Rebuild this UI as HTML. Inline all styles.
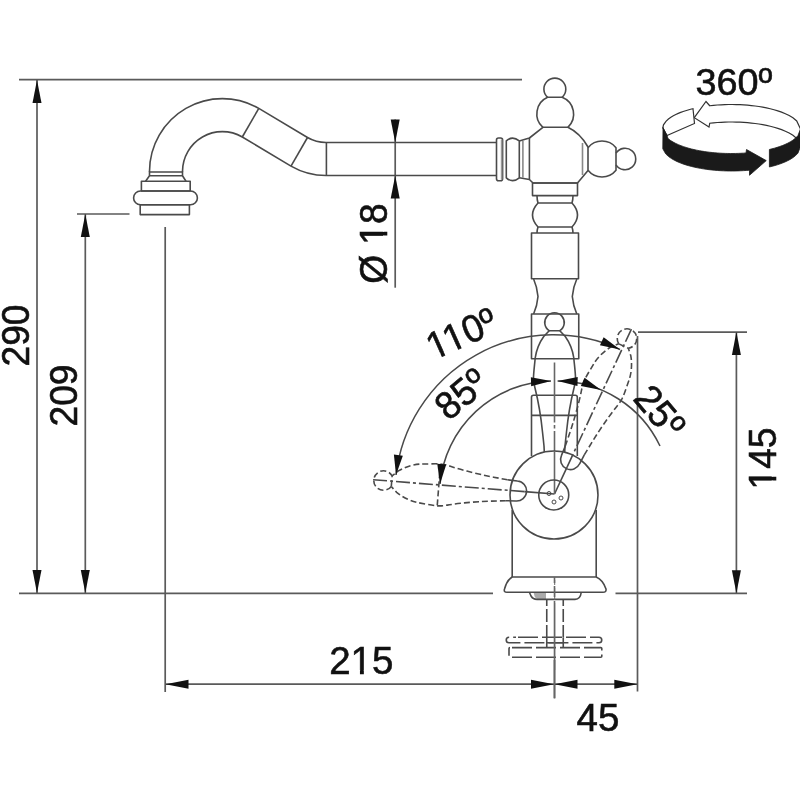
<!DOCTYPE html>
<html><head><meta charset="utf-8">
<style>
html,body{margin:0;padding:0;background:#fff;}
svg{display:block;will-change:transform;}
text{font-family:"Liberation Sans",sans-serif;fill:#111;stroke:#111;stroke-width:0.6px;}
</style></head>
<body>
<svg width="800" height="800" viewBox="0 0 800 800">
<defs>
  <path id="arr" d="M0,0 L-4.5,23 L4.5,23 Z" fill="#111"/>
  <path id="foot1" d="M1.5,-3.8 h7.9 v5.6 h-7.9 Z M13.3,-3.8 h7.2 v5.6 h-7.2 Z" fill="#fff" stroke="none"/>
</defs>
<rect width="800" height="800" fill="#fff"/>

<!-- ============ DIMENSION LINES ============ -->
<g stroke="#5a5a5a" stroke-width="1.7" fill="none">
  <!-- top horizontal (290) -->
  <line x1="19" y1="79.7" x2="522" y2="79.7"/>
  <!-- bottom horizontal left -->
  <line x1="19" y1="593.3" x2="493" y2="593.3"/>
  <!-- bottom horizontal right -->
  <line x1="615.5" y1="593.3" x2="747" y2="593.3"/>
  <!-- 290 vertical -->
  <line x1="37" y1="80" x2="37" y2="593"/>
  <!-- 209 -->
  <line x1="77" y1="214" x2="129.5" y2="214"/>
  <line x1="85.3" y1="214" x2="85.3" y2="593"/>
  <!-- 215 left ext -->
  <line x1="165.2" y1="227" x2="165.2" y2="692"/>
  <!-- 215 dim -->
  <line x1="165" y1="684.2" x2="637" y2="684.2"/>
  <line x1="554.5" y1="660" x2="554.5" y2="698.5"/>
  <!-- right ext 637.5 -->
  <line x1="637.5" y1="336" x2="637.5" y2="691.5"/>
  <!-- 145 -->
  <line x1="638" y1="332.1" x2="747" y2="332.1"/>
  <line x1="736.4" y1="332" x2="736.4" y2="593"/>
  <!-- Ø18 -->
  <line x1="395.2" y1="119.5" x2="395.2" y2="287.7"/>
</g>
<g fill="#111">
  <!-- 290 arrows -->
  <use href="#arr" transform="translate(37,80)"/>
  <use href="#arr" transform="translate(37,593) rotate(180)"/>
  <!-- 209 arrows -->
  <use href="#arr" transform="translate(85.3,214)"/>
  <use href="#arr" transform="translate(85.3,593) rotate(180)"/>
  <!-- Ø18 arrows -->
  <use href="#arr" transform="translate(395.2,142.5) rotate(180)"/>
  <use href="#arr" transform="translate(395.2,175.5)"/>
  <!-- 145 arrows -->
  <use href="#arr" transform="translate(736.4,332.1)"/>
  <use href="#arr" transform="translate(736.4,593.3) rotate(180)"/>
  <!-- 215 arrows -->
  <use href="#arr" transform="translate(165.5,684.2) rotate(-90)"/>
  <use href="#arr" transform="translate(554,684.2) rotate(90)"/>
  <!-- 45 arrows -->
  <use href="#arr" transform="translate(554.5,684.2) rotate(-90)"/>
  <use href="#arr" transform="translate(637.3,684.2) rotate(90)"/>
</g>

<!-- dimension texts -->
<g font-size="38.5">
  <text x="361.25" y="673.75" text-anchor="middle">215</text>
  <use href="#foot1" transform="translate(350.55,673.75)"/>
  <text x="598" y="731" text-anchor="middle">45</text>
  <text transform="translate(29,335.5) rotate(-90) scale(0.965,1)" text-anchor="middle">290</text>
  <text transform="translate(77,395.5) rotate(-90) scale(0.965,1)" text-anchor="middle">209</text>
  <g transform="translate(775.5,458.5) rotate(-90) scale(0.965,1)"><text text-anchor="middle">145</text><use href="#foot1" transform="translate(-32.1,0)"/></g>
  <g transform="translate(386.8,243.6) rotate(-90) scale(0.965,1)"><text text-anchor="middle">Ø 18</text><use href="#foot1" transform="translate(-1.07,0)"/></g>
  <text x="695.5" y="95" font-size="37.8">360º</text>
</g>


<!-- ============ FAUCET ============ -->
<g id="faucet" stroke="#4a4a4a" stroke-width="1.6" fill="none" stroke-linejoin="round">
  <!-- spout -->
  <path d="M149.5,172 L149.5,171.5 A72.85,72.85 0 0 1 258.8,108.4 L307.5,137.5 A37,37 0 0 0 326,142.5 L497,142.5"/>
  <path d="M182.5,172 L182.5,171.5 A39.85,39.85 0 0 1 242.3,137 L291,166.1 A70,70 0 0 0 326,175.5 L497,175.5"/>
  <line x1="258.8" y1="108.4" x2="242.3" y2="137"/>
  <line x1="307.5" y1="137.5" x2="291" y2="166.1"/>
  <line x1="326.4" y1="142.5" x2="326.4" y2="175.5"/>
  <!-- nozzle -->
  <path d="M149.5,172 L182.5,172 M149.5,175.8 L182.5,175.8 M149.5,171.5 L149.5,175.8 L145.6,181.2 M182.5,171.5 L182.5,175.8 L186,181.2"/>
  <rect x="141.4" y="181.2" width="48.8" height="9.8"/>
  <path d="M140.5,191 L190.5,191 A6.9,6.9 0 0 1 190.5,204.8 L140.5,204.8 A6.9,6.9 0 0 1 140.5,191 Z"/>
  <rect x="140.2" y="204.8" width="49.2" height="9.8"/>

  <!-- head: pipe rings -->
  <rect x="496.5" y="138" width="6.1" height="42.7" rx="2"/>
  <line x1="501.6" y1="139.5" x2="501.6" y2="179.5" stroke="#999"/>
  <path d="M506.3,140.9 Q512.4,135.2 519.3,140.9 L519.3,177.8 Q512.4,183.5 506.3,177.8 Z"/>
  <line x1="522.9" y1="141" x2="522.9" y2="177.5" stroke="#888"/>
  <path d="M519.3,140.9 L529.4,138 L542.9,127.3 L567.9,127.3 Q580,133 588,147 L588,170.6 L577.5,183 L533,183 L529.4,179.5 L519.3,177.8"/>
  <line x1="529.4" y1="138" x2="529.4" y2="179.5"/>
  <line x1="582.5" y1="143" x2="582.5" y2="175" stroke="#888"/>
  <!-- right knob -->
  <path d="M588,147.7 A18,18 0 0 1 616,147.7 L616,170.3 A18,18 0 0 1 588,170.3"/>
  <path d="M616,153.1 A10.75,10.75 0 1 1 616,164.9"/>
  <!-- top knob -->
  <path d="M542.9,127.3 A18.05,18.05 0 0 1 547.6,97.3 L562.1,97.3 A18.05,18.05 0 0 1 567.9,127.3"/>
  <path d="M547.6,97.3 A10.95,10.95 0 1 1 562.1,97.3"/>

  <!-- column -->
  <rect x="532.5" y="183" width="45" height="12.6"/>
  <path d="M537,195.6 Q537,200 538,203 L572,203 Q573,200 573,195.6"/>
  <path d="M538,203 Q527,215 538,227 L572,227 Q583,215 572,203"/>
  <path d="M538,227 Q537,230 537,233 M572,227 Q573,230 573,233"/>
  <rect x="531.5" y="233" width="47" height="45.75"/>
  <path d="M533.6,279 Q537.2,287 538,296.5 Q537.2,306 533.6,314 M576.8,279 Q573.1,287 572.3,296.5 Q573.1,306 576.8,314"/>
  <rect x="531.5" y="314" width="47.25" height="44.75"/>
  <path d="M531.5,456 L531.5,397.2 Q531.5,395.2 533.5,395.2 L575.3,395.2 Q577.3,395.2 577.3,397.2 L577.3,456"/>
  <line x1="531.5" y1="415.4" x2="577.3" y2="415.4"/>
</g>

<!-- lever definitions -->
<defs>
  <path id="levbody" d="M-5.3,-163.3 L-10.75,-157.5 C-14,-153 -18,-145 -19.3,-136 C-19.8,-130 -21,-121 -21,-116 C-21,-112 -20.2,-109 -19.5,-106 C-16,-92 -13,-72 -12,-62 C-11.2,-55 -10.7,-50 -10.5,-48 L-10,-38 A10,10 0 0 0 10,-38 L10.5,-48 C10.7,-50 11.2,-55 12,-62 C13,-72 16,-92 19.5,-106 C20.2,-109 21,-112 21,-116 C21,-121 19.8,-130 19.3,-136 C18,-145 14,-153 10.75,-157.5 L5.3,-163.3"/>
  <path id="levbodyA" d="M-10.5,-48 C-10.7,-50 -11.2,-55 -12,-62 C-13,-72 -16,-92 -19.5,-106 C-20.2,-109 -21,-112 -21,-116 C-21,-121 -19.8,-130 -19.3,-136 C-18,-145 -14,-153 -10.75,-157.5 L-5.3,-163.3 M10.5,-48 C10.7,-50 11.2,-55 12,-62 C13,-72 16,-92 19.5,-106 C20.2,-109 21,-112 21,-116 C21,-121 19.8,-130 19.3,-136 C18,-145 14,-153 10.75,-157.5 L5.3,-163.3"/>
  <path id="levcap" d="M-10.5,-48 L-10,-38 A10,10 0 0 0 10,-38 L10.5,-48"/>
  <path id="levknob" d="M-5.3,-163.3 A9.75,9.75 0 1 1 5.3,-163.3 Z"/>
</defs>
<g stroke="#4a4a4a" stroke-width="1.6" fill="none">
  <!-- vertical lever (solid) -->
  <g transform="translate(554.5,494)">
    <use href="#levbody"/>
    <use href="#levknob"/>
  </g>
  <!-- center line vertical -->
  <path d="M554.5,362.4 L554.5,422.5 M554.5,425 L554.5,428.5 M554.5,431 L554.5,494" stroke="#666"/>
  <!-- big handle circle -->
  <circle cx="554" cy="495" r="44" fill="#fff"/>
  <!-- body lower -->
  <path d="M512.2,510 L512.2,577 M596.2,510 L596.2,577"/>
  <!-- dashed levers -->
  <g transform="translate(554.5,494) rotate(-85.5)"><use href="#levcap"/></g>
  <g transform="translate(554.5,494) rotate(-85.5)" stroke-dasharray="6,3">
    <use href="#levbodyA"/>
    <use href="#levknob"/>
    <path d="M-20.5,-116 L20.5,-116"/>
  </g>
  <g transform="translate(554.5,494) rotate(25)"><use href="#levcap"/></g>
  <g transform="translate(554.5,494) rotate(25)" stroke-dasharray="6,3">
    <use href="#levbodyA"/>
    <use href="#levknob"/>
  </g>
  <!-- dashed lever centre lines -->
  <g transform="translate(554.5,494) rotate(-85.5)">
    <path d="M0,-182 L0,-30" stroke-dasharray="14,3,3,3"/>
    <path d="M0,-30 L0,0"/>
  </g>
  <g transform="translate(554.5,494) rotate(25)">
    <path d="M0,-182 L0,-30" stroke-dasharray="14,3,3,3"/>
    <path d="M0,-30 L0,0"/>
  </g>
  <path d="M554.5,451 L554.5,494" stroke="#666"/>
  <!-- small circle + holes -->
  <circle cx="553.75" cy="495" r="15"/>
  <circle cx="549" cy="493.5" r="2" stroke-width="1"/>
  <circle cx="561" cy="498" r="2" stroke-width="1"/>
  <circle cx="554" cy="502" r="2" stroke-width="1"/>
  <!-- base -->
  <path d="M512.2,577 L596.2,577 Q603,580 606,589 Q606.5,592.3 603,592.3 L507,592.3 Q503.5,592.3 504.5,589 Q507,580 512.2,577 Z"/>
  <path d="M533.7,593 L546,593 L546,599 L537,599 Q534,597 533.7,593 Z" fill="#aaa" stroke="none"/>
  <path d="M529.5,592.5 L531,596 Q533,599.4 537,599.4 L575,599.4 Q580.5,599 581.2,592.5"/>
  <!-- stud (dashed) -->
  <path d="M546.75,599.5 L546.75,606 M563.25,599.5 L563.25,606"/>
  <g stroke-dasharray="13,3">
    <path d="M546.75,609 L546.75,637 M563.25,609 L563.25,637"/>
  </g>
  <g stroke-dasharray="20,4" stroke-dashoffset="-2">
    <path d="M516,637.3 L599,637.3 A2.75,2.75 0 0 1 599,642.8 L509,642.8 A2.75,2.75 0 0 1 509,637.3 Z"/>
    <rect x="509" y="647.6" width="92.8" height="9.6" rx="1"/>
  </g>
  <path d="M546.75,637.3 L546.75,647.6 M563.25,637.3 L563.25,647.6 M546.75,642.8 L563.25,642.8"/>
  <path d="M554.5,577 L554.5,583 M554.5,586 L554.5,597 M554.5,601 L554.5,698" stroke="#666"/>
</g>
  <path d="M554.7,580 L554.7,585 M554.7,588 L554.7,600 M554.7,603 L554.7,670" stroke="#666"/>
</g>

<!-- angle arcs -->
<g stroke="#4a4a4a" stroke-width="1.5" fill="none">
  <!-- 110 -->
  <path d="M396,475 A158.5,158.5 0 0 1 620,349.5"/>
  <!-- 85 -->
  <path d="M440,484 A114,114 0 0 1 551,381"/>
  <!-- 25 -->
  <path d="M557.6,381 A114,114 0 0 1 660,446"/>
</g>

<defs>
  <path id="arr2" d="M0,0 L-4.5,20 L4.5,20 Z" fill="#111"/>
</defs>
<g fill="#111">
  <use href="#arr2" transform="translate(396,475) rotate(-173.2)"/>
  <use href="#arr2" transform="translate(620,349.5) rotate(114.4)"/>
  <use href="#arr2" transform="translate(440,484) rotate(-175)"/>
  <use href="#arr2" transform="translate(551,381) rotate(88.2)"/>
  <use href="#arr2" transform="translate(557.6,381) rotate(-88.4)"/>
  <use href="#arr2" transform="translate(601,390) rotate(114.1)"/>
</g>
<g font-size="38.5">
  <g transform="translate(433.5,360.5) rotate(-24) scale(0.965,1)"><text>110º</text><use href="#foot1"/><use href="#foot1" transform="translate(18.55,0)"/></g>
  <text transform="translate(448.6,421.75) rotate(-40) scale(0.965,1)">85º</text>
  <text transform="translate(632,399) rotate(50) scale(0.965,1)">25º</text>
</g>



<!-- 360 icon -->
<g>
  <path d="M709.75,105.75 713.53,105.35 717.31,105.02 721.09,104.78 724.88,104.61 728.66,104.52 732.44,104.50 736.22,104.56 740.00,104.69 743.78,104.89 747.56,105.17 751.34,105.54 755.12,105.98 758.91,106.52 762.69,107.15 766.47,107.88 770.25,108.73 774.03,109.71 777.81,110.84 781.59,112.15 785.38,113.69 789.16,115.54 792.94,117.85 796.72,121.00 800.50,129.00 L800.50,146.50 796.72,138.50 792.94,135.35 789.16,133.04 785.38,131.19 781.59,129.65 777.81,128.34 774.03,127.21 770.25,126.23 766.47,125.38 762.69,124.65 758.91,124.02 755.12,123.48 751.34,123.04 747.56,122.67 743.78,122.39 740.00,122.19 736.22,122.06 732.44,122.00 728.66,122.02 724.88,122.11 721.09,122.28 717.31,122.52 713.53,122.85 709.75,123.25 L709,127 L694.3,117.7 L706,101.5 Z" fill="#fff" stroke="#333" stroke-width="1.2" stroke-linejoin="miter"/>
  <path d="M662.8,128 L663.50,124.84 665.96,121.34 668.42,119.07 670.88,117.30 673.33,115.82 675.79,114.54 678.25,113.42 680.71,112.42 683.17,111.52 685.62,110.70 688.08,109.96 690.54,109.28 693.00,108.67 L694.5,123.5 L667,135.5 Z" fill="#fff" stroke="#333" stroke-width="1.2"/>
  <path d="M663,127.5 L667,135.5 L668.00,138.59 670.60,140.52 673.20,142.10 675.80,143.46 678.40,144.64 681.00,145.70 683.60,146.63 686.20,147.48 688.80,148.25 691.40,148.94 694.00,149.57 696.60,150.13 699.20,150.65 701.80,151.11 704.40,151.53 707.00,151.90 709.60,152.23 712.20,152.52 714.80,152.77 717.40,152.98 720.00,153.16 722.60,153.30 725.20,153.40 727.80,153.46 730.40,153.50 733.00,153.49 735.60,153.46 738.20,153.38 740.80,153.28 743.40,153.13 746.00,152.95 L746.5,149.5 L766.25,160.6 L749.5,175.25 L749.50,170.15 746.61,170.41 743.72,170.61 740.83,170.77 737.94,170.89 735.05,170.97 732.16,171.00 729.27,170.99 726.38,170.93 723.49,170.83 720.60,170.69 717.71,170.51 714.82,170.27 711.93,169.99 709.04,169.67 706.15,169.29 703.26,168.85 700.37,168.36 697.48,167.82 694.59,167.20 691.70,166.51 688.81,165.75 685.92,164.89 683.03,163.94 680.14,162.86 677.25,161.64 674.36,160.23 671.47,158.58 668.58,156.56 665.69,153.86 662.80,148.78 Z" fill="#1a1a1a" stroke="#1a1a1a" stroke-width="0.8"/>
  <path d="M769.40,149.47 771.99,148.84 774.58,148.14 777.17,147.36 779.77,146.51 782.36,145.56 784.95,144.49 787.54,143.29 790.13,141.92 792.73,140.30 795.32,138.32 797.91,135.65 800.50,129.00 L800.50,146.50 797.91,153.15 795.32,155.82 792.73,157.80 790.13,159.42 787.54,160.79 784.95,161.99 782.36,163.06 779.77,164.01 777.17,164.86 774.58,165.64 771.99,166.34 769.40,166.97 Z" fill="#1a1a1a" stroke="#1a1a1a" stroke-width="0.8"/>
</g>

</svg>
</body></html>
